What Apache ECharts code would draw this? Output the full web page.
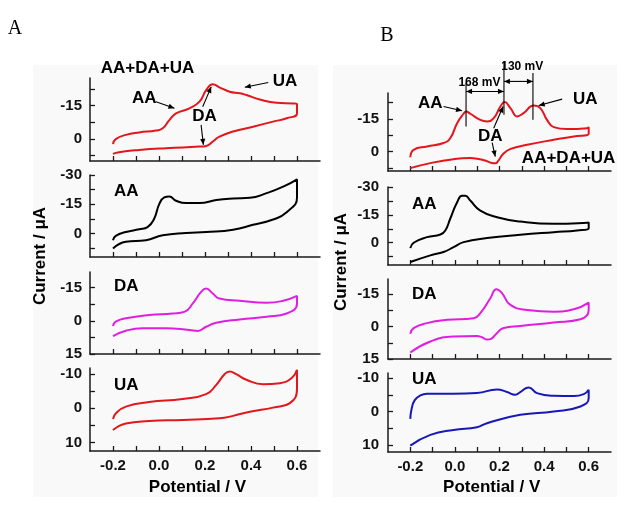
<!DOCTYPE html>
<html><head><meta charset="utf-8">
<script src="https://cdn.jsdelivr.net/npm/echarts@6/dist/echarts.min.js"></script>
<style>html,body{margin:0;padding:0;background:#fff}#c{width:636px;height:519px}</style>
</head><body><div id="c"></div>
<script>
// ---------- data (potential V, current µA; anodic negative) ----------
const potTicks = [-0.2,-0.1,0,0.1,0.2,0.3,0.4,0.5,0.6];
const potLabels = [-0.2,0,0.2,0.4,0.6];

const yTicksMix = [-22.5,-15,-7.5,0,7.5];
const yLabelsMix = [-15,0];
const yTicksAA = [-30,-22.5,-15,-7.5,0,7.5];
const yLabelsAA = [-30,-15,0];
const yTicksDA = [-15,-7.5,0,7.5,15];
const yLabelsDA = [-15,0,15];
const yTicksUA = [-10,-5,0,5,10];
const yLabelsUA = [-10,0,10];

// Panel A
const E_mixA = [-0.2,-0.188,-0.144,-0.086,-0.013,0.016,0.045,0.074,0.132,0.176,0.205,0.234,0.263,0.307,0.351,0.380,0.438,0.511,0.584,0.6,0.6,0.555,0.496,0.409,0.322,0.263,0.234,0.205,0.176,0.030,-0.086,-0.174,-0.2];
const I_mixA = [2.4,0.1,-1.8,-2.9,-3.8,-4.8,-8.5,-11.5,-13.8,-16.8,-22,-24.7,-23.3,-21.3,-20.6,-19.8,-17.8,-16.3,-16,-15.7,-11.5,-9.3,-7.8,-5.5,-3.3,-1,1.2,3.2,3.5,4.2,5,6,6.75];

const E_aaA = [-0.2,-0.188,-0.144,-0.086,-0.050,-0.021,0.001,0.023,0.045,0.074,0.118,0.176,0.249,0.322,0.395,0.468,0.540,0.6,0.6,0.555,0.496,0.409,0.322,0.205,0.118,0.016,-0.057,-0.144,-0.2];
const I_aaA = [3.4,1.2,-0.8,-2.2,-3.3,-7.6,-15.1,-18.5,-19,-16.8,-15.6,-15.6,-17.2,-18,-18.3,-20.7,-24,-27.8,-18.5,-10.9,-7.2,-4.5,-2,-0.8,-0.3,0.9,3.4,4.2,7.6];

const E_daA = [-0.2,-0.188,-0.144,-0.043,0.059,0.110,0.147,0.183,0.205,0.234,0.263,0.351,0.468,0.540,0.6,0.6,0.555,0.468,0.351,0.249,0.205,0.169,0.132,0.030,-0.072,-0.144,-0.2];
const I_daA = [2.4,0.4,-1.1,-2.6,-3.3,-4,-7.8,-13,-14.5,-12.3,-10,-9,-8.1,-9,-11.2,-7.8,-3.3,-1.8,-0.6,0.9,2.7,4.6,4.2,3.4,3.4,4.5,6.9];

const E_uaA = [-0.2,-0.188,-0.144,-0.043,0.103,0.205,0.249,0.285,0.307,0.336,0.380,0.453,0.526,0.577,0.6,0.6,0.569,0.496,0.395,0.322,0.263,0.103,-0.043,-0.144,-0.2];
const I_uaA = [3.1,1.5,-0.5,-1.8,-2.7,-4.1,-6.8,-9.9,-10.7,-9.9,-8.3,-7,-7.3,-8.8,-11.2,-5.8,-1.5,-0.2,1,2.2,2.9,3.4,3.7,4.4,6.3];

// Panel B
const E_mixB = [-0.2,-0.185,-0.125,-0.051,-0.021,0.010,0.039,0.050,0.069,0.114,0.144,0.174,0.204,0.223,0.249,0.279,0.308,0.353,0.383,0.413,0.443,0.503,0.593,0.6,0.6,0.533,0.443,0.324,0.250,0.215,0.195,0.181,0.165,0.144,0.100,0.069,-0.006,-0.110,-0.2];
const I_mixB = [2.6,-0.8,-2.3,-3.9,-6.1,-13,-17.3,-18.3,-17.3,-14.5,-13.8,-15.3,-20.6,-22.7,-19.9,-16.1,-17.6,-21.1,-19.9,-14.5,-11.2,-10.3,-10.7,-11.2,-8.1,-6.9,-5.4,-3.1,-1.2,1.2,4.2,5.4,5.2,4.4,3.3,3,3.5,5.3,7.6];

const E_aaB = [-0.2,-0.185,-0.125,-0.065,-0.043,-0.021,0.010,0.032,0.047,0.069,0.114,0.189,0.293,0.443,0.593,0.6,0.6,0.548,0.443,0.293,0.144,0.039,-0.006,-0.051,-0.110,-0.2];
const I_aaB = [2.9,0,-3,-4.4,-6.6,-12.9,-21.8,-25.3,-25.3,-22.7,-17.3,-13.7,-11.4,-10.2,-10.7,-11,-7.8,-6.6,-5.7,-4.3,-2.5,-0.3,2.4,5,6.8,10.4];

const E_daB = [-0.2,-0.185,-0.125,-0.035,0.084,0.114,0.159,0.186,0.211,0.249,0.324,0.443,0.533,0.6,0.6,0.563,0.443,0.293,0.219,0.185,0.162,0.145,0.120,0.099,-0.006,-0.110,-0.2];
const I_daB = [3.4,0.7,-1.6,-3.1,-3.9,-6.2,-13.1,-17.3,-15.5,-10,-7.7,-6.9,-8,-11.1,-7.7,-3.4,-1.9,-0.3,0.7,3.4,5.7,6.0,4.9,4.4,4.6,6.9,12];

const E_uaB = [-0.2,-0.194,-0.180,-0.155,-0.125,-0.006,0.099,0.189,0.234,0.271,0.293,0.331,0.368,0.443,0.533,0.578,0.6,0.6,0.563,0.443,0.293,0.144,0.099,-0.006,-0.110,-0.2];
const I_uaB = [2.2,-0.8,-3.4,-4.8,-5.3,-5.3,-5.5,-6.6,-5.8,-5,-5.8,-7.2,-5.5,-4.7,-4.6,-5.2,-6.5,-4,-1.5,0,1,3.5,4.7,5.5,7,10.2];

// ---------- layout / style ----------
const RED = '#e3161b', BLACK = '#000000', MAGENTA = '#e01ee0', BLUE = '#1818b8';
const FONT = '"Liberation Sans", Arial, sans-serif';
const panels = [
  {g:[90,78,230,83],  y:[-27.5,10],  t:yTicksMix, l:yLabelsMix, E:E_mixA, I:I_mixA, c:RED,     bottom:false, m:8},
  {g:[90,175,230,82], y:[-30,12],    t:yTicksAA,  l:yLabelsAA,  E:E_aaA,  I:I_aaA,  c:BLACK,   bottom:false, m:8},
  {g:[90,272,230,82], y:[-22,15],    t:yTicksDA,  l:yLabelsDA,  E:E_daA,  I:I_daA,  c:MAGENTA, bottom:false, m:8},
  {g:[90,368,230,83], y:[-11.7,12.4],t:yTicksUA,  l:yLabelsUA,  E:E_uaA,  I:I_uaA,  c:RED,     bottom:true,  m:8},
  {g:[388,93,223,78], y:[-26.8,8.9], t:yTicksMix, l:yLabelsMix, E:E_mixB, I:I_mixB, c:RED,     bottom:false, m:9},
  {g:[388,187,223,78],y:[-30,12],    t:yTicksAA,  l:yLabelsAA,  E:E_aaB,  I:I_aaB,  c:BLACK,   bottom:false, m:9},
  {g:[388,279,223,80],y:[-22,15],    t:yTicksDA,  l:yLabelsDA,  E:E_daB,  I:I_daB,  c:MAGENTA, bottom:false, m:9},
  {g:[388,373,223,79],y:[-11.5,12.1],t:yTicksUA,  l:yLabelsUA,  E:E_uaB,  I:I_uaB,  c:BLUE,    bottom:true,  m:9}
];

const axisLine = {show:true, onZero:false, lineStyle:{color:'#1a1a1a', width:1.5}};
const grid = [], xAxis = [], yAxis = [], series = [];
panels.forEach((p, i) => {
  grid.push({left:p.g[0], top:p.g[1], width:p.g[2], height:p.g[3], containLabel:false});
  xAxis.push({type:'value', gridIndex:i, min:-0.3, max:0.7,
    axisLine, splitLine:{show:false},
    axisTick:{show:true, inside:true, length:5, customValues:potTicks, lineStyle:{color:'#1a1a1a', width:1.3}},
    axisLabel:{show:p.bottom, customValues:potLabels, margin:7, fontFamily:FONT, fontWeight:'bold', fontSize:15, color:'#111',
      formatter:v => Number(v).toFixed(1)}});
  yAxis.push({type:'value', gridIndex:i, inverse:true, min:p.y[0], max:p.y[1],
    axisLine, splitLine:{show:false},
    axisTick:{show:true, inside:true, length:5, customValues:p.t, lineStyle:{color:'#1a1a1a', width:1.3}},
    axisLabel:{show:true, customValues:p.l, margin:p.m, fontFamily:FONT, fontWeight:'bold', fontSize:15, color:'#111',
      formatter:v => String(v)}});
  series.push({type:'line', xAxisIndex:i, yAxisIndex:i, data:p.E.map((e,k)=>[e,p.I[k]]),
    showSymbol:false, smooth:0.5, clip:false, lineStyle:{color:p.c, width:2}, itemStyle:{color:p.c}, silent:true});
});

const chart = echarts.init(document.getElementById('c'), null, {renderer:'canvas'});
chart.setOption({animation:false, backgroundColor:'#ffffff', grid, xAxis, yAxis, series});

// ---------- annotations (data coords -> pixels) ----------
const px = (g, pt) => chart.convertToPixel({gridIndex:g}, pt);
const G = [];
function txt(x, y, s, size, align, family, rot) {
  const el = {type:'text', x, y, z:20, style:{text:s, font:(family ? '' : 'bold ') + size + 'px ' + (family || FONT),
    fill:'#000', align:align||'center', verticalAlign:'middle', textAlign:align||'center', textVerticalAlign:'middle'}};
  if (rot) el.rotation = rot;
  G.push(el);
}
function dtxt(g, pt, s, size, align) { const p = px(g, pt); txt(p[0], p[1], s, size, align); }
function head(tip, from) {
  const a = Math.atan2(tip[1]-from[1], tip[0]-from[0]);
  const L = 6, W = 2.6, c = Math.cos(a), s = Math.sin(a);
  return {type:'polygon', z:20, shape:{points:[[tip[0],tip[1]],[tip[0]-L*c-W*s, tip[1]-L*s+W*c],[tip[0]-L*c+W*s, tip[1]-L*s-W*c]]}, style:{fill:'#000'}};
}
function seg(g, p1, p2, heads) {
  const a = px(g, p1), b = px(g, p2);
  G.push({type:'line', z:20, shape:{x1:a[0],y1:a[1],x2:b[0],y2:b[1]}, style:{stroke:'#000', lineWidth:1.1}});
  if (heads >= 1) G.push(head(b, a));
  if (heads >= 2) G.push(head(a, b));
}

// background panels
G.push({type:'rect', z:-10, shape:{x:33, y:65, width:285, height:432}, style:{fill:'#f9f9f9'}});
G.push({type:'rect', z:-10, shape:{x:333, y:65, width:284, height:432}, style:{fill:'#f9f9f9'}});

// panel letters & axis titles
txt(15, 29, 'A', 20, 'center', '"Liberation Serif", "Times New Roman", serif');
txt(387, 36, 'B', 20, 'center', '"Liberation Serif", "Times New Roman", serif');
txt(197.5, 487, 'Potential / V', 17);
txt(491.7, 487, 'Potential / V', 17);
txt(40, 256, 'Current / μA', 17, 'center', null, Math.PI/2);
txt(341, 262, 'Current / μA', 17, 'center', null, Math.PI/2);

// A1
dtxt(0, [-0.05,-31.8], 'AA+DA+UA', 17);
dtxt(0, [-0.064,-18.3], 'AA', 17);
dtxt(0, [0.198,-10], 'DA', 17);
dtxt(0, [0.548,-26.2], 'UA', 17);
seg(0, [-0.013,-16.8], [0.067,-13.8], 1);
seg(0, [0.19,-14.5], [0.227,-23.5], 1);
seg(0, [0.183,-6.3], [0.193,2.7], 1);
seg(0, [0.475,-25.5], [0.373,-23.3], 1);
// A2-A4
dtxt(1, [-0.196,-21.9], 'AA', 17, 'left');
dtxt(2, [-0.196,-15.6], 'DA', 17, 'left');
dtxt(3, [-0.196,-6.6], 'UA', 17, 'left');
// B1
dtxt(4, [-0.110,-22.2], 'AA', 17);
dtxt(4, [0.585,-24], 'UA', 17);
dtxt(4, [0.159,-6.9], 'DA', 17);
dtxt(4, [0.51,3], 'AA+DA+UA', 17);
dtxt(4, [0.110,-31.6], '168 mV', 12);
dtxt(4, [0.302,-39], '130 mV', 12);
seg(4, [0.05,-31.4], [0.05,-11.5], 0);
seg(4, [0.22,-41.3], [0.22,-16.8], 0);
seg(4, [0.35,-36], [0.35,-14.5], 0);
seg(4, [0.05,-27.5], [0.22,-27.5], 2);
seg(4, [0.22,-32.1], [0.35,-32.1], 2);
seg(4, [-0.051,-20.6], [0.032,-18.7], 1);
seg(4, [0.481,-24], [0.376,-21.1], 1);
seg(4, [0.174,-10.7], [0.216,-20.6], 1);
seg(4, [0.167,-4.1], [0.181,2.3], 1);
// B2-B4
dtxt(5, [-0.192,-20.9], 'AA', 17, 'left');
dtxt(6, [-0.192,-14.7], 'DA', 17, 'left');
dtxt(7, [-0.192,-9.5], 'UA', 17, 'left');

chart.setOption({graphic: G});
</script></body></html>
